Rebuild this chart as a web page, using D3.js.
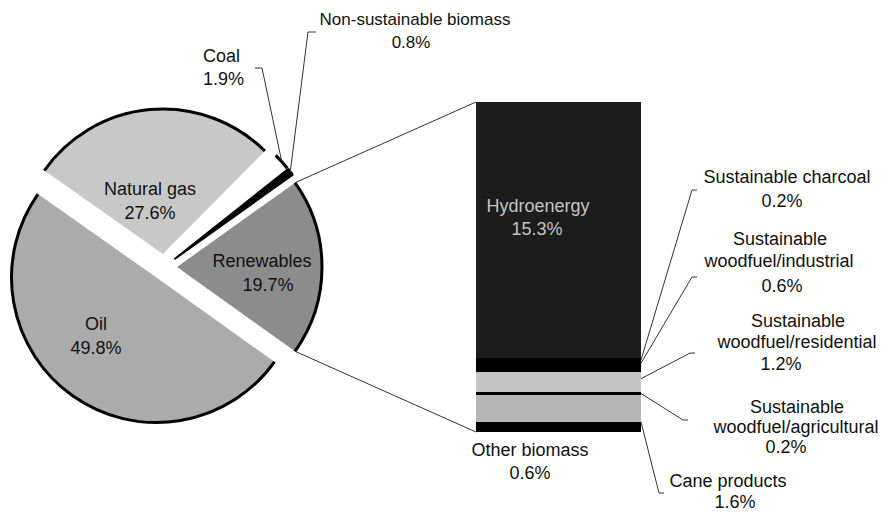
<!DOCTYPE html>
<html>
<head>
    <meta charset="utf-8">
    <title>energy-mix-pie-bar</title>
    <style>
body { margin: 0; background: #fff; }
text { font-family: "Liberation Sans", Arial, Helvetica, sans-serif; font-size: 18px; fill: #111; }
.leader { fill: none; stroke: #333; stroke-width: 1; }
.rim { fill: none; stroke: #000; stroke-width: 3; }
.band { shape-rendering: crispEdges; }
</style>
</head>
<body>
<script src="https://cdn.jsdelivr.net/npm/d3@7"></script>
<script>
// pie: primary energy shares (%), listed clockwise starting with Oil
var pieNames  = ["Oil", "Natural gas", "Coal", "Non-sustainable biomass", "Renewables"];
var pieValues = [49.8, 27.6, 1.9, 0.8, 19.7];
var pieFills  = ["#ababab", "#c8c8c8", "#ffffff", "#000000", "#8c8c8c"];

// stacked bar: breakdown of renewables (%), top to bottom
var barNames  = ["Hydroenergy", "Sustainable charcoal", "Sustainable woodfuel/industrial",
                 "Sustainable woodfuel/residential", "Sustainable woodfuel/agricultural",
                 "Cane products", "Other biomass"];
var barValues = [15.3, 0.2, 0.6, 1.2, 0.2, 1.6, 0.6];
var barFills  = ["#1c1c1c", "#000000", "#000000", "#c4c4c4", "#000000", "#b6b6b6", "#000000"];

var W = 884, H = 513;
var svg = d3.select("body").append("svg").attr("width", W).attr("height", H);

/* ---------- pie ---------- */
var cx = 164, cy = 267, R = 145, explode = 13;
var total = d3.sum(pieValues);
// rotate so that Renewables is centred on 3 o'clock
var before = d3.sum(pieValues.slice(0, 4));
var start = Math.PI / 2 - (before + pieValues[4] / 2) / total * 2 * Math.PI;

var pie = d3.pie().sort(null).value(function (d) { return d; })
    .startAngle(start).endAngle(start + 2 * Math.PI);
var arcs = pie(pieValues);
var arc = d3.arc().innerRadius(0).outerRadius(R);
var rim = d3.arc().innerRadius(R).outerRadius(R);

function offset(a) {
    var m = (a.startAngle + a.endAngle) / 2;
    return [Math.sin(m) * explode, -Math.cos(m) * explode];
}

var slices = svg.append("g").attr("transform", "translate(" + cx + "," + cy + ")")
    .selectAll("g").data(arcs).enter().append("g")
    .attr("transform", function (d) { var o = offset(d); return "translate(" + o[0] + "," + o[1] + ")"; });

slices.append("path").attr("d", arc)
    .attr("fill", function (d, i) { return pieFills[i]; })
    .attr("stroke", function (d, i) { return i === 3 ? "#000" : "none"; })
    .attr("stroke-width", 2);
slices.append("path").attr("class", "rim").attr("d", rim);

// point on the outer rim of slice i at angle a (absolute svg coords)
function rimPoint(i, a) {
    var o = offset(arcs[i]);
    return [cx + o[0] + Math.sin(a) * R, cy + o[1] - Math.cos(a) * R];
}
function midAngle(d) { return (d.startAngle + d.endAngle) / 2; }

/* pie labels inside slices */
var inside = [
    { i: 0, x: 96,  y: 330 },
    { i: 1, x: 150, y: 195 },
    { i: 4, x: 262, y: 267 }
];
inside.forEach(function (p) {
    var t = svg.append("text").attr("text-anchor", "middle");
    t.append("tspan").attr("x", p.x).attr("y", p.y).text(pieNames[p.i]);
    t.append("tspan").attr("x", p.x + (p.i === 4 ? 6 : 0)).attr("y", p.y + 24)
        .text(d3.format(".1f")(pieValues[p.i]) + "%");
});

/* callouts for the thin slices */
var coalTip = rimPoint(2, midAngle(arcs[2]));
var bioTip = rimPoint(3, midAngle(arcs[3]));
svg.append("path").attr("class", "leader")
    .attr("d", d3.line()([coalTip, [262, 68], [255, 68]]));
svg.append("path").attr("class", "leader")
    .attr("d", d3.line()([bioTip, [308, 32], [316, 32]]));

var coalText = svg.append("text").attr("text-anchor", "start");
coalText.append("tspan").attr("x", 203).attr("y", 62).text(pieNames[2]);
coalText.append("tspan").attr("x", 203).attr("y", 85).text(d3.format(".1f")(pieValues[2]) + "%");

var bioText = svg.append("text").attr("text-anchor", "middle").style("font-size", "17px");
bioText.append("tspan").attr("x", 415).attr("y", 25).text(pieNames[3]);
bioText.append("tspan").attr("x", 411).attr("y", 48).text(d3.format(".1f")(pieValues[3]) + "%");

/* ---------- stacked bar ---------- */
var barX = 476, barW = 165;
var y = d3.scaleLinear().domain([0, d3.sum(barValues)]).range([102, 432]);
var cum = d3.cumsum(barValues);
var stack = barValues.map(function (v, i) { return { name: barNames[i], v: v, y0: cum[i] - v, y1: cum[i] }; });

svg.append("g").selectAll("rect").data(stack).enter().append("rect")
    .attr("class", "band")
    .attr("x", barX).attr("width", barW)
    .attr("y", function (d) { return Math.round(y(d.y0)); })
    .attr("height", function (d) { return Math.round(y(d.y1)) - Math.round(y(d.y0)); })
    .attr("fill", function (d, i) { return barFills[i]; });

/* connectors from Renewables slice to bar */
var renTop = rimPoint(4, arcs[4].startAngle);
var renBot = rimPoint(4, arcs[4].endAngle);
svg.append("path").attr("class", "leader").attr("d", d3.line()([renTop, [barX, y(0)]]));
svg.append("path").attr("class", "leader").attr("d", d3.line()([renBot, [barX, y(d3.sum(barValues))]]));

/* hydro label inside bar */
var hydro = svg.append("text").attr("text-anchor", "middle").style("fill", "#c4c4c4");
hydro.append("tspan").attr("x", 538).attr("y", 212).text(barNames[0]);
hydro.append("tspan").attr("x", 537).attr("y", 235).text(d3.format(".1f")(barValues[0]) + "%");

/* right-hand callouts: where on the band the leader touches, elbow, label lines */
var callouts = [
    { i: 1, f: 0.5,  elbow: [692, 190], tick: 5, lines: [["Sustainable charcoal", 787, 183], ["%", 782, 207]] },
    { i: 2, f: 0.15, elbow: [692, 277], tick: 5, lines: [["Sustainable", 780, 245], ["woodfuel/industrial", 779, 267], ["%", 782, 292]] },
    { i: 3, f: 0.35, elbow: [690, 353], tick: 5, lines: [["Sustainable", 798, 327], ["woodfuel/residential", 797, 348], ["%", 781, 370]] },
    { i: 4, f: 0.5,  elbow: [683, 420], tick: 5, lines: [["Sustainable", 797, 413], ["woodfuel/agricultural", 796, 433], ["%", 786, 453]] },
    { i: 5, f: 1.0,  elbow: [659, 493], tick: 5, lines: [["Cane products", 728, 487], ["%", 735, 508]] }
];
callouts.forEach(function (c) {
    var s = stack[c.i];
    var yy = y(s.y0) + (y(s.y1) - y(s.y0)) * c.f;
    svg.append("path").attr("class", "leader")
        .attr("d", d3.line()([[barX + barW, yy], c.elbow, [c.elbow[0] + c.tick, c.elbow[1]]]));
    var t = svg.append("text").attr("text-anchor", "middle");
    c.lines.forEach(function (l) {
        t.append("tspan").attr("x", l[1]).attr("y", l[2])
            .text(l[0] === "%" ? d3.format(".1f")(s.v) + "%" : l[0]);
    });
});

/* other biomass label below bar */
var other = svg.append("text").attr("text-anchor", "middle");
other.append("tspan").attr("x", 530).attr("y", 456).text(barNames[6]);
other.append("tspan").attr("x", 530).attr("y", 479).text(d3.format(".1f")(barValues[6]) + "%");
</script>
</body>
</html>
